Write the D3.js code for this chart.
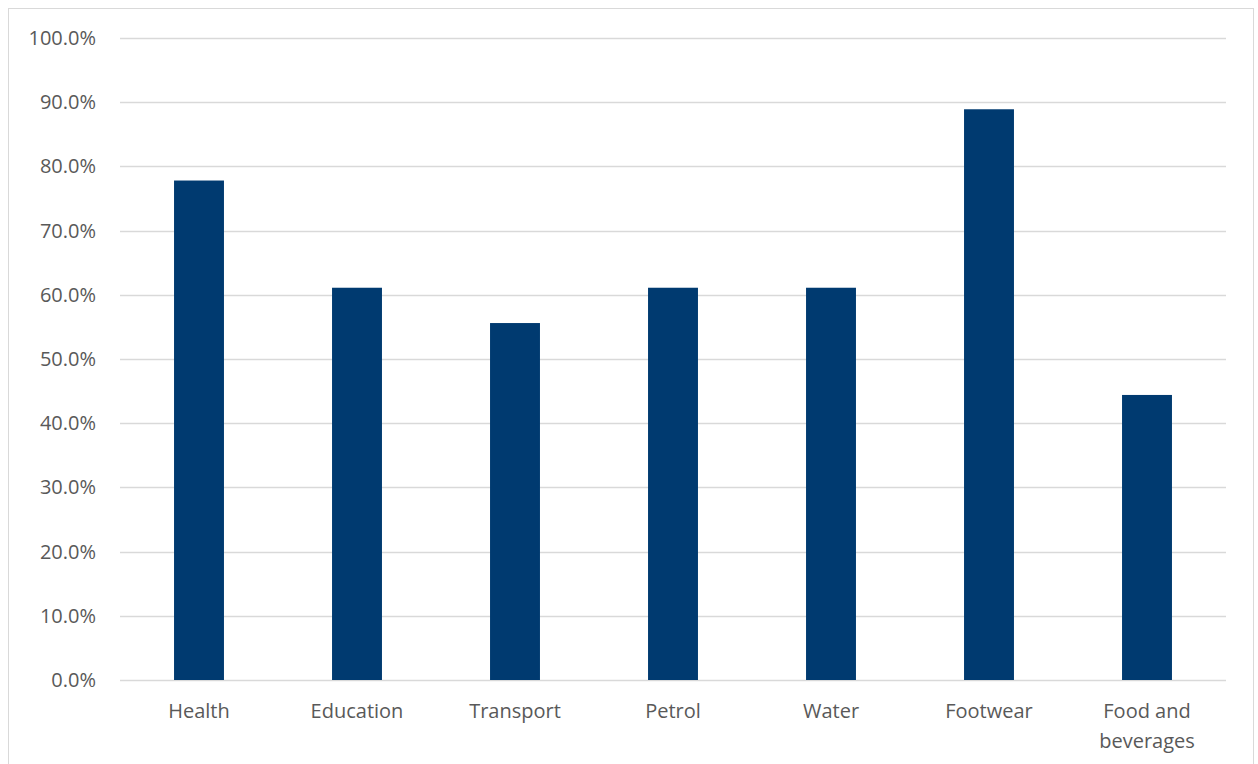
<!DOCTYPE html>
<html><head><meta charset="utf-8">
<script src="https://cdn.jsdelivr.net/npm/d3@7"></script>
<style>body{margin:0;background:#fff}svg{display:block}</style>
</head><body>
<script>
const categories = ["Health","Education","Transport","Petrol","Water","Footwear","Food and beverages"];
const values = [0.778, 0.611, 0.556, 0.611, 0.611, 0.889, 0.444];
const yTicks = [0,0.1,0.2,0.3,0.4,0.5,0.6,0.7,0.8,0.9,1.0];

const W=1258,H=764;
const svg=d3.select("body").append("svg").attr("width",W).attr("height",H);
svg.append("rect").attr("x",8.5).attr("y",8.5).attr("width",1245).attr("height",H+10)
  .attr("fill","#fff").attr("stroke","#d9d9d9").attr("stroke-width",1);
const x=d3.scaleBand().domain(categories).range([120,1226]).paddingInner(0.684).paddingOuter(0.342);
const y=d3.scaleLinear().domain([0,1]).range([680,38]);
const font="'Open Sans', sans-serif";
svg.append("g").selectAll("line").data(yTicks).join("line")
  .attr("x1",120).attr("x2",1226).attr("y1",d=>Math.round(y(d))+0.5).attr("y2",d=>Math.round(y(d))+0.5)
  .attr("stroke","#d9d9d9").attr("stroke-width",1.5);
svg.append("g").selectAll("text").data(yTicks).join("text")
  .attr("x",96).attr("y",d=>y(d)).attr("dy","0.35em").attr("text-anchor","end")
  .attr("font-family",font).attr("font-size",20).attr("fill","#595959")
  .text(d=>d3.format(".1%")(d));
svg.append("g").selectAll("rect").data(values).join("rect")
  .attr("x",(d,i)=>x(categories[i])).attr("width",x.bandwidth())
  .attr("y",d=>y(d)).attr("height",d=>y(0)-y(d)).attr("fill","#003A70");
const lab=svg.append("g").selectAll("text").data(categories).join("text")
  .attr("x",d=>x(d)+x.bandwidth()/2).attr("y",718).attr("text-anchor","middle")
  .attr("font-family",font).attr("font-size",20).attr("fill","#595959");
lab.each(function(d){
  const t=d3.select(this);
  const parts=d==="Food and beverages"?["Food and","beverages"]:[d];
  parts.forEach((p,i)=>t.append("tspan").attr("x",x(d)+x.bandwidth()/2).attr("dy",i?30:0).text(p));
});
</script>
</body></html>
